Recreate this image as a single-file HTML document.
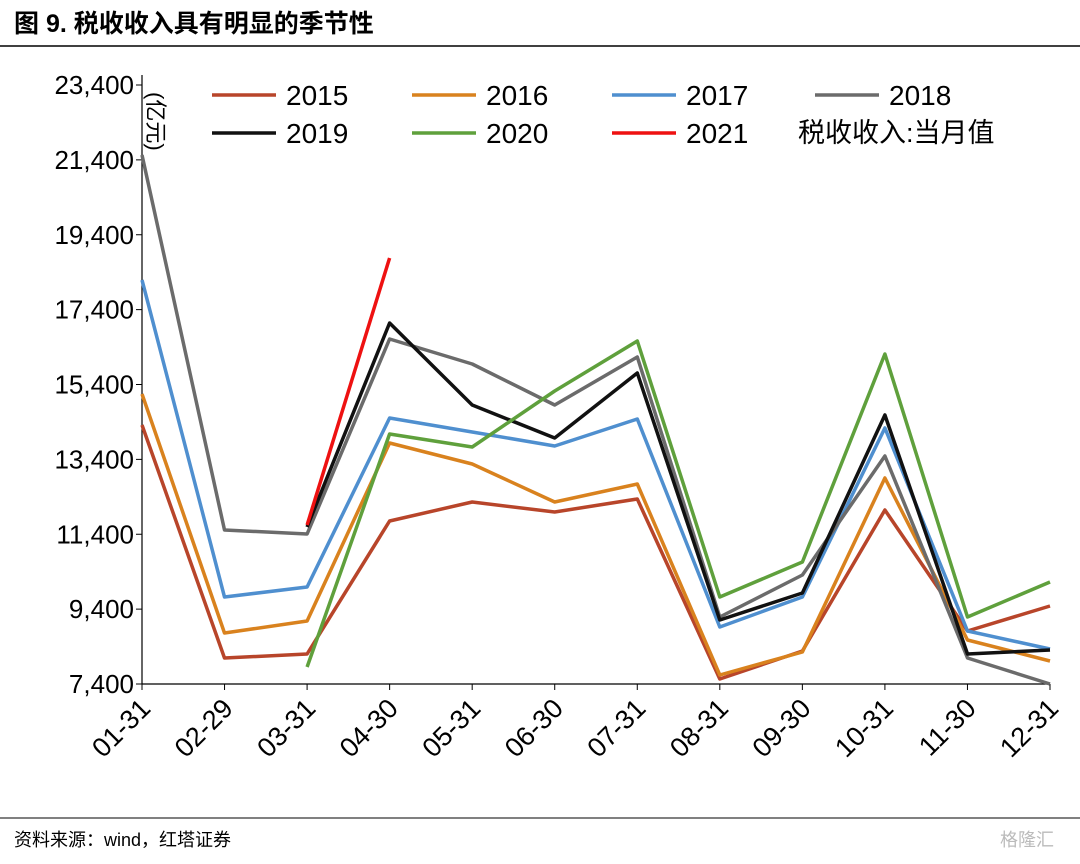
<!DOCTYPE html>
<html><head><meta charset="utf-8"><style>
body{margin:0;background:#fff;width:1080px;height:859px;overflow:hidden;font-family:"Liberation Sans","Noto Sans CJK SC",sans-serif}
</style></head><body>
<svg width="1080" height="859" xmlns="http://www.w3.org/2000/svg">
<text x="14" y="32" font-size="25" font-weight="bold" font-family="Liberation Sans,Noto Sans CJK SC,sans-serif">图  9. 税收收入具有明显的季节性</text>
<line x1="0" y1="46" x2="1080" y2="46" stroke="#000" stroke-width="1.5"/>
<line x1="0" y1="818" x2="1080" y2="818" stroke="#000" stroke-width="1"/>
<text x="14" y="846" font-size="18" font-family="Liberation Sans,Noto Sans CJK SC,sans-serif">资料来源：wind，红塔证券</text>
<text x="1000" y="846" font-size="18" fill="#bbb" font-family="Liberation Sans,Noto Sans CJK SC,sans-serif">格隆汇</text>
<g id="axes"></g><g id="series"></g><g id="legend"></g>
<text transform="translate(148,92) rotate(90)" font-size="22" font-family="Liberation Sans,Noto Sans CJK SC,sans-serif">(亿元)</text>
<text x="798" y="142" font-size="27" font-family="Liberation Sans,Noto Sans CJK SC,sans-serif">税收收入:当月值</text>
</svg>
<script>
const categories=["01-31","02-29","03-31","04-30","05-31","06-30","07-31","08-31","09-30","10-31","11-30","12-31"];
const yTicks=[7400,9400,11400,13400,15400,17400,19400,21400,23400];
const s2015=[14318,8094,8201,11754,12261,11994,12341,7534,8281,12047,8816,9483];
const s2016=[15146,8762,9083,13837,13276,12261,12742,7640,8254,12902,8575,8014];
const s2017=[18190,9724,9991,14505,14131,13757,14478,8922,9724,14238,8816,8335];
const s2018=[21529,11513,11406,16615,15947,14852,16134,9189,10311,13490,8094,7400];
const s2019=[null,null,11594,17042,14852,13971,15707,9109,9831,14585,8201,8308];
const s2020=[null,null,7854,14077,13730,15226,16561,9724,10659,16214,9189,10124];
const s2021=[null,null,11647,18778,null,null,null,null,null,null,null,null];
const seriesNames=["2015","2016","2017","2018","2019","2020","2021"];
const seriesData=[s2015,s2016,s2017,s2018,s2019,s2020,s2021];
const colors=["#b8452a","#d9821e","#4f8fcf","#6b6b6b","#111111","#5fa03c","#ee1111"];
const NS="http://www.w3.org/2000/svg";
const x0=142,x1=1050,yTop=85,yBot=684,vMin=7400,vMax=23400;
const xs=i=>x0+i*(x1-x0)/(categories.length-1);
const ys=v=>yBot-(v-vMin)*(yBot-yTop)/(vMax-vMin);
function mk(tag,attrs,parent){const e=document.createElementNS(NS,tag);for(const k in attrs)e.setAttribute(k,attrs[k]);parent.appendChild(e);return e;}
const ax=document.getElementById('axes');
let l=mk('line',{x1:x0,y1:yTop-10,x2:x0,y2:yBot,stroke:'#000','stroke-width':1.2},ax);


l=mk('line',{x1:x0,y1:yBot,x2:x1,y2:yBot,stroke:'#000','stroke-width':1.2},ax);


yTicks.forEach(v=>{
 const y=ys(v);
 const t=mk('line',{x1:x0-6,y1:y,x2:x0,y2:y,stroke:'#000'},ax);
 
 
 const tx=mk('text',{x:x0-8,y:y+9,'text-anchor':'end','font-size':26},ax);
 tx.textContent=v.toLocaleString('en-US');
 
 
});
categories.forEach((c,i)=>{
 const x=xs(i);
 const t=mk('line',{x1:x,y1:yBot,x2:x,y2:yBot+6,stroke:'#000'},ax);
 
 
 const tx=mk('text',{x:x+10,y:yBot+26,'text-anchor':'end','font-size':27,transform:`rotate(-45 ${x+10} ${yBot+26})`},ax);
 tx.textContent=c;
 
 
});
const sg=document.getElementById('series');
seriesData.forEach((d,si)=>{
 const pts=[];d.forEach((v,i)=>{if(v!==null)pts.push(xs(i).toFixed(1)+','+ys(v).toFixed(1));});
 const p=mk('polyline',{points:pts.join(' '),fill:'none',stroke:colors[si],'stroke-width':3.5,'stroke-linejoin':'round'},sg);
 
 
});
const lg=document.getElementById('legend');
const lpos=[[212,95],[412,95],[612,95],[815,95],[212,133],[412,133],[612,133]];
seriesNames.forEach((n,i)=>{
 const [x,y]=lpos[i];
 const g=mk('g',{},lg);
 
 
 mk('line',{x1:x,y1:y,x2:x+64,y2:y,stroke:colors[i],'stroke-width':3.5},g);
 const t=mk('text',{x:x+74,y:y+10,'font-size':28},g);
 t.textContent=n;
});
</script>
</body></html>
